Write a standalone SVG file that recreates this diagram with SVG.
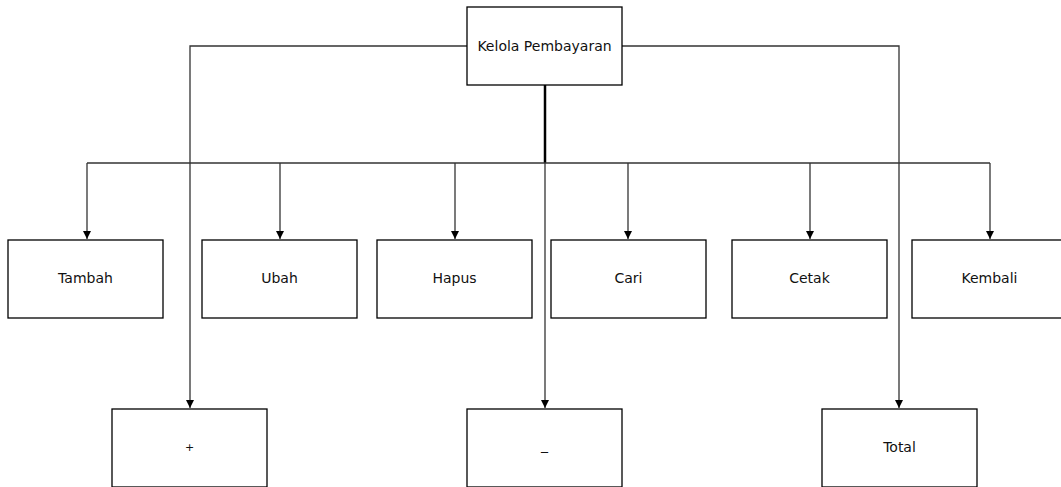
<svg xmlns="http://www.w3.org/2000/svg" width="1061" height="487" viewBox="0 0 1061 487">
<style>
.box{fill:#fff;stroke:#000;stroke-width:1.3}
.lbl{font-family:"DejaVu Sans","Liberation Sans",sans-serif;font-size:14px;fill:#111;text-anchor:middle;dominant-baseline:central}
.c{fill:none;stroke:#333;stroke-width:1.3}
.thick{fill:none;stroke:#000;stroke-width:2.5}
</style>
<defs>
<marker id="arr" viewBox="0 0 10 10" refX="10" refY="5" markerWidth="8" markerHeight="8" markerUnits="userSpaceOnUse" orient="auto">
<path d="M0,0 L10,5 L0,10 Z" fill="#000"/>
</marker>
</defs>
<g id="connectors">
<path class="thick" d="M545,85 V163"/>
<path class="c" d="M87,163 H990"/>
<path class="c" d="M87,163 V239" marker-end="url(#arr)"/>
<path class="c" d="M280,163 V239" marker-end="url(#arr)"/>
<path class="c" d="M455,163 V239" marker-end="url(#arr)"/>
<path class="c" d="M628,163 V239" marker-end="url(#arr)"/>
<path class="c" d="M810,163 V239" marker-end="url(#arr)"/>
<path class="c" d="M990,163 V239" marker-end="url(#arr)"/>
<path class="c" d="M545,163 V408" marker-end="url(#arr)"/>
<path class="c" d="M467,46 H190 V408" marker-end="url(#arr)"/>
<path class="c" d="M622,46 H899 V408" marker-end="url(#arr)"/>
</g>
<g id="kelola"><rect class="box" x="467" y="7" width="155" height="78"/><text class="lbl" x="544.5" y="46">Kelola Pembayaran</text></g>
<g id="tambah"><rect class="box" x="8" y="240" width="155" height="78"/><text class="lbl" x="85.5" y="278">Tambah</text></g>
<g id="ubah"><rect class="box" x="202" y="240" width="155" height="78"/><text class="lbl" x="279.5" y="278">Ubah</text></g>
<g id="hapus"><rect class="box" x="377" y="240" width="155" height="78"/><text class="lbl" x="454.5" y="278">Hapus</text></g>
<g id="cari"><rect class="box" x="551" y="240" width="155" height="78"/><text class="lbl" x="628.5" y="278">Cari</text></g>
<g id="cetak"><rect class="box" x="732" y="240" width="155" height="78"/><text class="lbl" x="809.5" y="278">Cetak</text></g>
<g id="kembali"><rect class="box" x="912" y="240" width="155" height="78"/><text class="lbl" x="989.5" y="278">Kembali</text></g>
<g id="plus"><rect class="box" x="112" y="409" width="155" height="78"/><text class="lbl" x="189.5" y="447" style="font-size:11px">+</text></g>
<g id="minus"><rect class="box" x="467" y="409" width="155" height="78"/><text class="lbl" x="544.5" y="445">_</text></g>
<g id="total"><rect class="box" x="822" y="409" width="155" height="78"/><text class="lbl" x="899.5" y="447">Total</text></g>
</svg>
